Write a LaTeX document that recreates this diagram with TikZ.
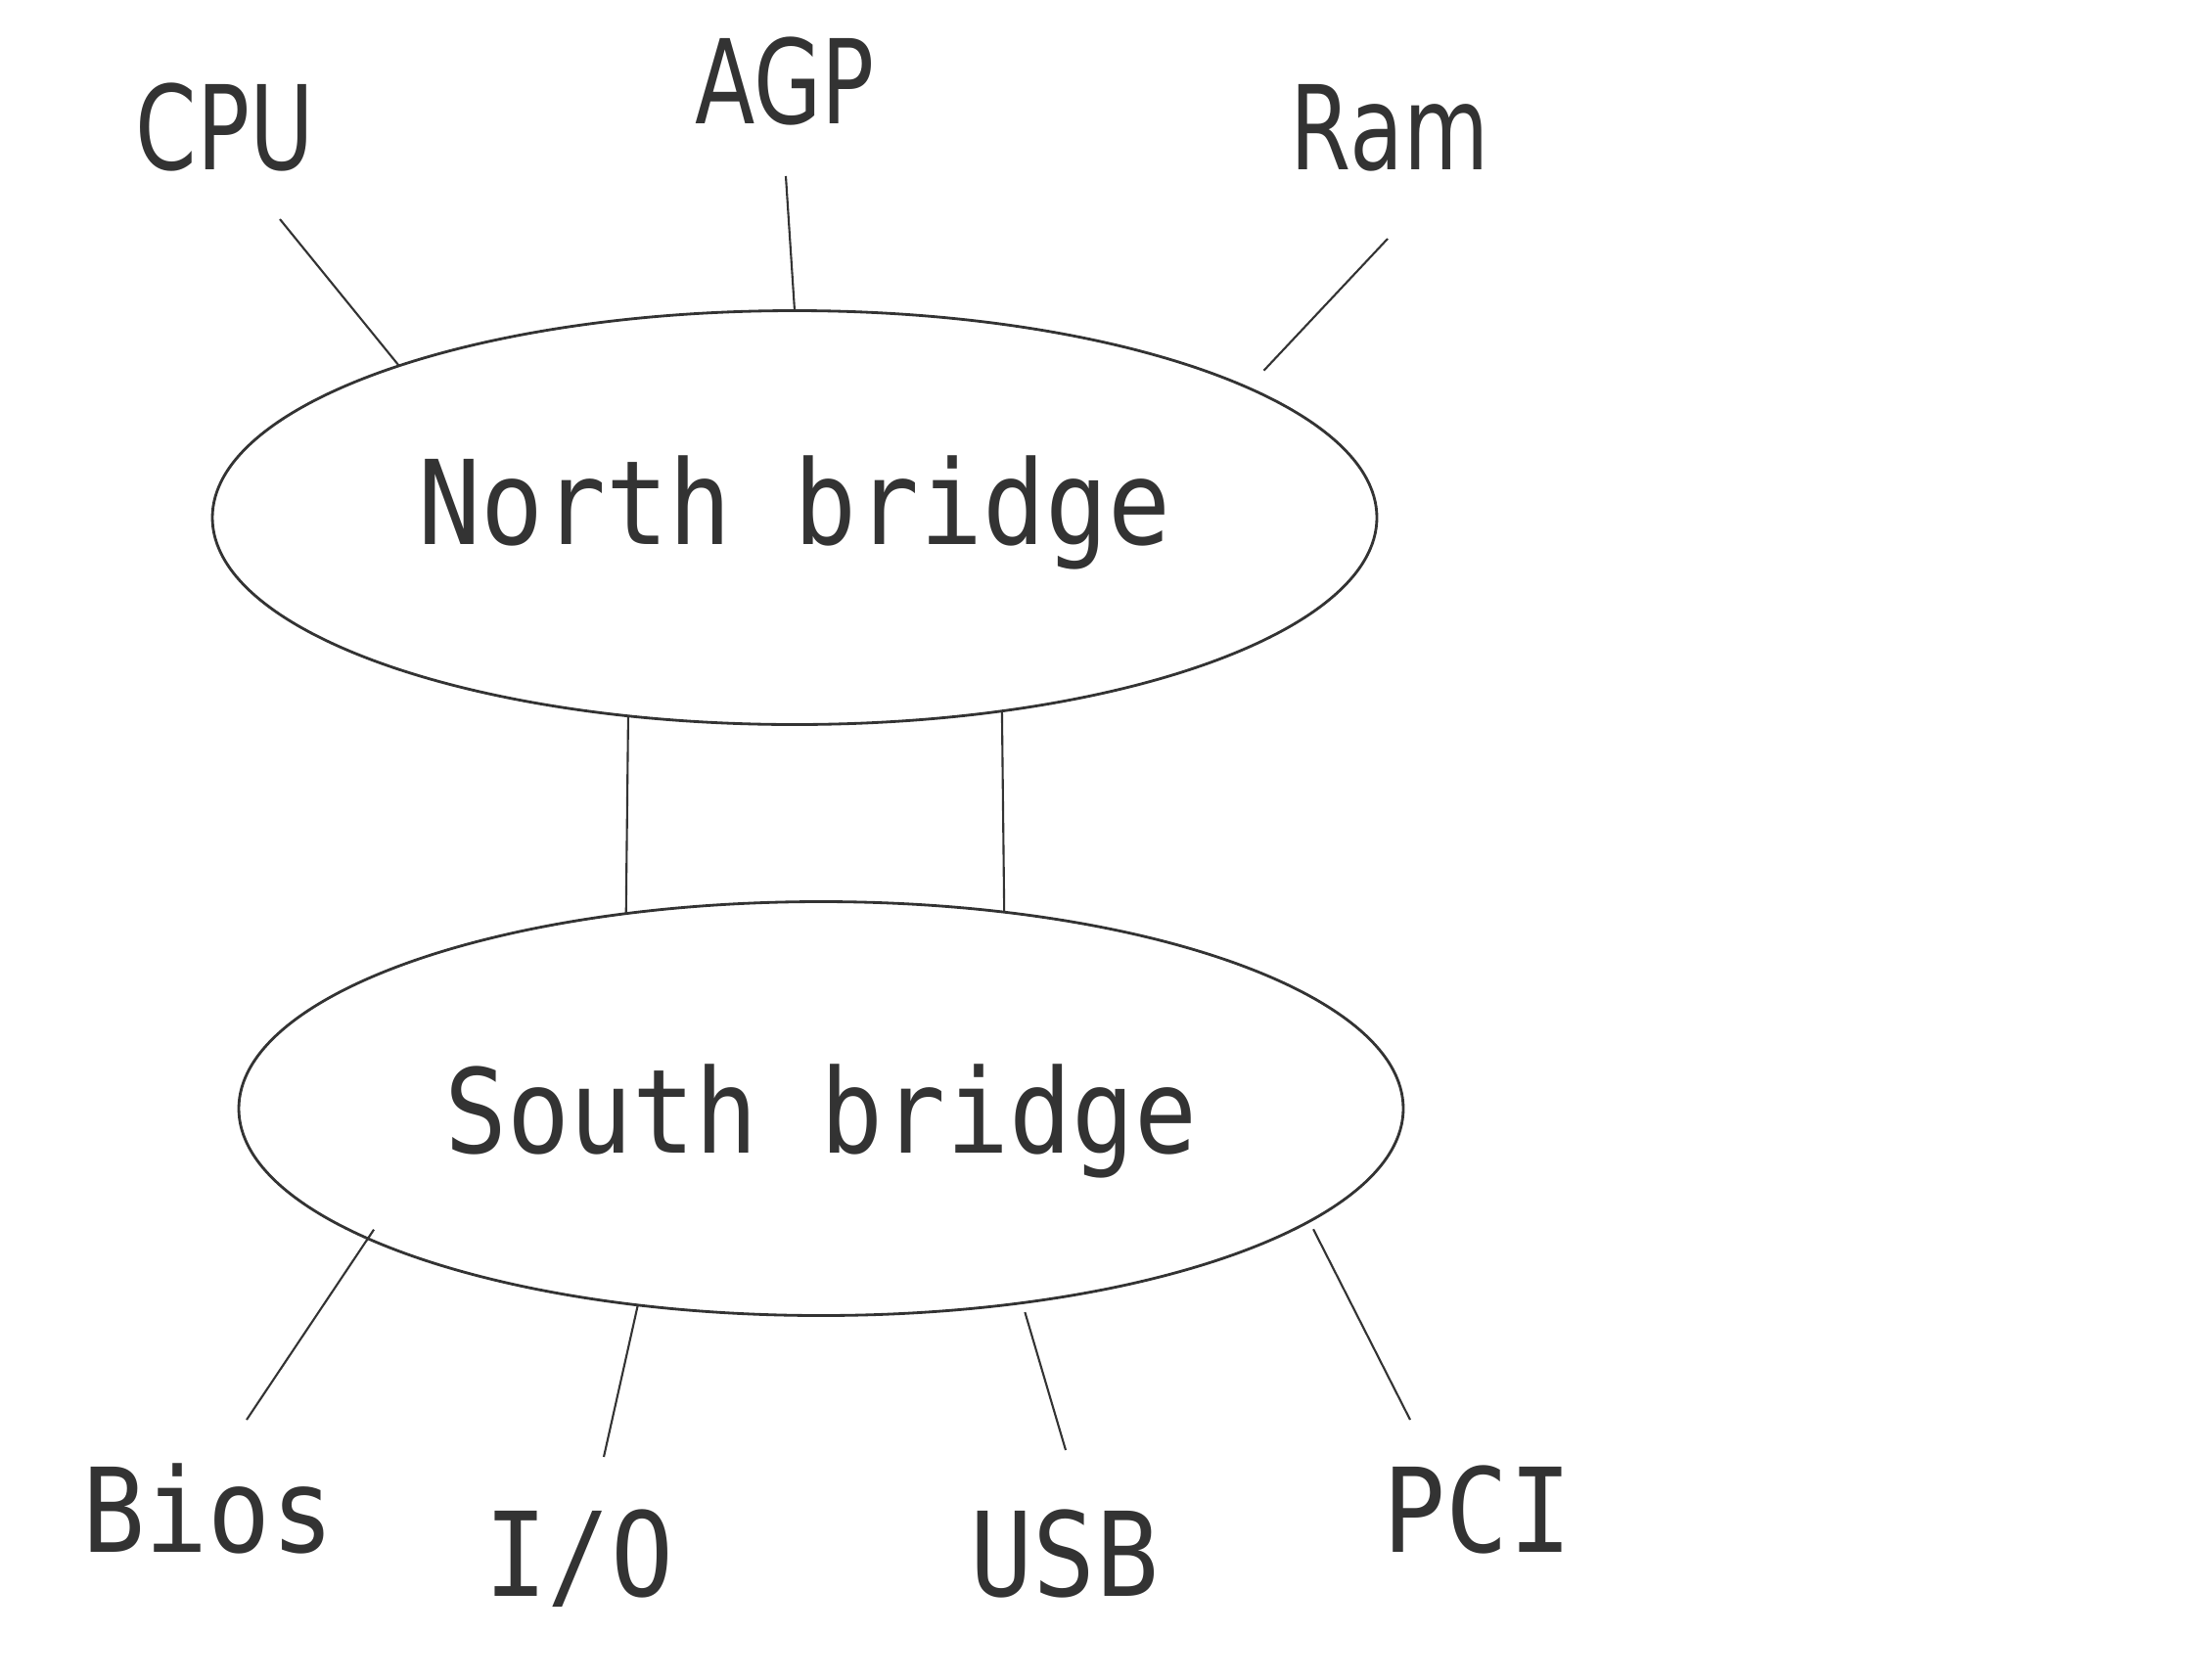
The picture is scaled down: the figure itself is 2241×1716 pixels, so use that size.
\documentclass[tikz,border=0pt]{standalone}
\usepackage{fontspec}
\usetikzlibrary{shapes.geometric}
\newfontfamily\monolabel[FakeStretch=0.89]{DejaVu Sans Mono}
\newfontfamily\sanslabel[FakeStretch=0.75]{DejaVu Sans}
\definecolor{ink}{HTML}{333333}
\tikzset{
  bridge/.style={draw=ink, ellipse, line width=0.8pt, inner sep=0pt, outer sep=0pt,
    minimum width=11.9cm, minimum height=4.23cm, text=ink,
    font=\monolabel\fontsize{34}{40}\selectfont},
  busname/.style={anchor=base, inner sep=0pt, text=ink,
    font=\monolabel\fontsize{34}{40}\selectfont},
  chipname/.style={anchor=base, inner sep=0pt, text=ink,
    font=\sanslabel\fontsize{34}{40}\selectfont},
  wire/.style={draw=ink, line width=0.6pt}
}
\begin{document}
\begin{tikzpicture}[x=0.1mm,y=0.1mm]
\useasboundingbox (0,0) rectangle (2241,-1716);
% the two bridges
\node [bridge, text height=25.8pt, text depth=10.4pt] (nb) at (812,-529) {North bridge};
\node [bridge, text height=33pt, text depth=7.1pt] (sb) at (839,-1133) {South bridge};
% parts on top
\node [chipname] (cpu) at (230,-173) {CPU};
\node [chipname] (agp) at (802,-126) {AGP};
\node [chipname] (ram) at (1420,-173) {Ram};
% parts below
\node [busname] (bios) at (213,-1586) {Bios};
\node [busname] (io) at (592,-1631) {I/O};
\node [busname] (usb) at (1088,-1631) {USB};
\node [busname] (pci) at (1510,-1586) {PCI};
% loose ends of the wires
\coordinate (cpu-end) at (286,-224);
\coordinate (agp-end) at (803,-180);
\coordinate (ram-end) at (1418,-244);
\coordinate (bios-end) at (252,-1451);
\coordinate (io-end) at (617,-1489);
\coordinate (usb-end) at (1089,-1482);
\coordinate (pci-end) at (1441,-1451);
\draw [wire] (nb.159.2) -- (cpu-end);
\draw [wire] (nb.90.5) -- (agp-end);
\draw [wire, shorten <=2.4mm] (nb.16.7) -- (ram-end);
\draw [wire] (nb.230) -- (sb.135.4);
\draw [wire] (nb.317) -- (sb.47.8);
\draw [wire, shorten <=-1.1mm] (sb.196.3) -- (bios-end);
\draw [wire] (sb.227.7) -- (io-end);
\draw [wire, shorten <=1mm] (sb.316.4) -- (usb-end);
\draw [wire, shorten <=0.9mm] (sb.347.2) -- (pci-end);
\end{tikzpicture}
\end{document}
